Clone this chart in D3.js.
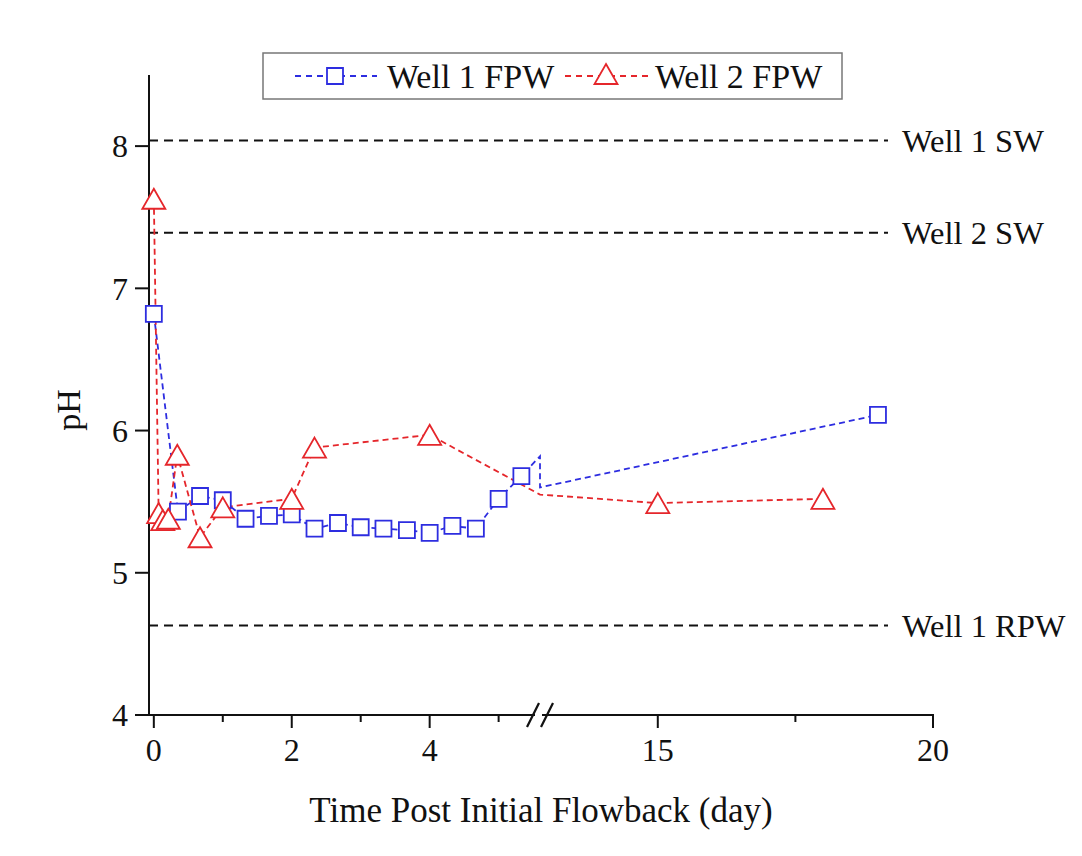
<!DOCTYPE html>
<html><head><meta charset="utf-8">
<script src="https://cdnjs.cloudflare.com/ajax/libs/d3/7.8.5/d3.min.js"></script>
<style>body{margin:0;background:#fff}svg{display:block}text{font-family:"Liberation Serif","Times New Roman",serif;fill:#111}</style>
</head><body><svg id="c" width="1082" height="856"></svg>
<script>
// ---- data ----
// Points with x inside the axis break (5.6–12.86 d) are hidden by the break; only their line joins show.
const well1Days = [0, 0.35, 0.67, 1.0, 1.33, 1.67, 2.0, 2.33, 2.67, 3.0, 3.33, 3.67, 4.0, 4.33, 4.67, 5.0, 5.33, 7, 10, 19];
const well1PH   = [6.82, 5.43, 5.54, 5.51, 5.38, 5.40, 5.41, 5.31, 5.35, 5.32, 5.31, 5.30, 5.28, 5.33, 5.31, 5.52, 5.68, 5.82, 5.60, 6.11];
const well2Days = [0, 0.07, 0.13, 0.21, 0.34, 0.67, 1.0, 2.0, 2.33, 4.0, 8, 15, 18];
const well2PH   = [7.63, 5.42, 5.37, 5.38, 5.83, 5.25, 5.46, 5.52, 5.88, 5.97, 5.55, 5.49, 5.52];
const refNames  = ["Well 1 SW", "Well 2 SW", "Well 1 RPW"];
const refPH     = [8.04, 7.39, 4.63];
const xMajorTicks = [0, 2, 4, 15, 20];
const xMinorTicks = [1, 3, 5, 17.5];
const yTicks = [4, 5, 6, 7, 8];
const breakStart = 5.6, breakEnd = 12.86;
const seriesNames = ["Well 1 FPW", "Well 2 FPW"];

const svg = d3.select("#c");
const X0 = 149, XB = 540, X1 = 933, YT = 75, YB = 715;
const x = d3.scaleLinear().domain([-0.07, breakStart, breakEnd, 20]).range([X0, XB, XB, X1]);
const y = d3.scaleLinear().domain([4, 8.5]).range([YB, YT]);
const blue = "#2d2de0", red = "#e5262b";

// reference lines
refPH.forEach((v, i) => {
  svg.append("line").attr("x1", X0).attr("x2", 888).attr("y1", y(v)).attr("y2", y(v))
    .attr("stroke", "#111").attr("stroke-width", 2).attr("stroke-dasharray", "9,6");
  svg.append("text").attr("x", 902).attr("y", y(v)).attr("dy", "0.35em")
    .attr("font-size", 32.5).text(refNames[i]);
});

// axes
svg.append("line").attr("x1", X0).attr("x2", X0).attr("y1", YT).attr("y2", YB).attr("stroke", "#111").attr("stroke-width", 2);
svg.append("line").attr("x1", X0 - 1).attr("x2", X1 + 1).attr("y1", YB).attr("y2", YB).attr("stroke", "#111").attr("stroke-width", 2);
yTicks.forEach(t => {
  svg.append("line").attr("x1", X0 - 14).attr("x2", X0).attr("y1", y(t)).attr("y2", y(t)).attr("stroke", "#111").attr("stroke-width", 2);
  svg.append("text").attr("x", X0 - 21).attr("y", y(t)).attr("dy", "0.35em").attr("text-anchor", "end").attr("font-size", 32).text(t);
});
xMajorTicks.forEach(t => {
  svg.append("line").attr("x1", x(t)).attr("x2", x(t)).attr("y1", YB).attr("y2", YB + 13).attr("stroke", "#111").attr("stroke-width", 2);
  svg.append("text").attr("x", x(t)).attr("y", YB + 46).attr("text-anchor", "middle").attr("font-size", 32).text(t);
});
xMinorTicks.forEach(t => {
  svg.append("line").attr("x1", x(t)).attr("x2", x(t)).attr("y1", YB).attr("y2", YB + 7).attr("stroke", "#111").attr("stroke-width", 2);
});
// break marks
svg.append("line").attr("x1", XB - 5).attr("x2", XB + 2).attr("y1", YB).attr("y2", YB).attr("stroke", "#fff").attr("stroke-width", 4);
[-7, 7].forEach(o => {
  svg.append("line").attr("x1", XB + o - 6).attr("x2", XB + o + 6).attr("y1", YB + 12).attr("y2", YB - 12)
    .attr("stroke", "#111").attr("stroke-width", 2.2);
});

// titles
svg.append("text").attr("transform", `translate(80,410) rotate(-90)`).attr("text-anchor", "middle").attr("font-size", 34).text("pH");
svg.append("text").attr("x", 541).attr("y", 822).attr("text-anchor", "middle").attr("font-size", 35).text("Time Post Initial Flowback (day)");

// series
const line = d3.line().x(d => x(d[0])).y(d => y(d[1]));
const inBreak = d => d[0] > breakStart && d[0] < breakEnd;
const s1 = well1Days.map((d, i) => [d, well1PH[i]]);
const s2 = well2Days.map((d, i) => [d, well2PH[i]]);
const sq = d3.symbol().type(d3.symbolSquare).size(16 * 16);
const triPath = (cx, cy, w) => { const h = w * 0.87; return `M${cx},${cy - h / 2}L${cx + w / 2},${cy + h / 2}L${cx - w / 2},${cy + h / 2}Z`; };

svg.append("path").datum(s1).attr("d", line).attr("fill", "none").attr("stroke", blue).attr("stroke-width", 1.8).attr("stroke-dasharray", "6,4");
svg.append("path").datum(s2).attr("d", line).attr("fill", "none").attr("stroke", red).attr("stroke-width", 1.8).attr("stroke-dasharray", "6,4");

svg.selectAll(".m1").data(s1.filter(d => !inBreak(d))).enter().append("path")
  .attr("d", sq).attr("transform", d => `translate(${x(d[0])},${y(d[1])})`)
  .attr("fill", "#fff").attr("stroke", blue).attr("stroke-width", 1.8);
svg.selectAll(".m2").data(s2.filter(d => !inBreak(d))).enter().append("path")
  .attr("d", d => triPath(x(d[0]), y(d[1]), 23))
  .attr("fill", "#fff").attr("stroke", red).attr("stroke-width", 1.8);

// legend
svg.append("rect").attr("x", 263).attr("y", 53).attr("width", 579).attr("height", 46)
  .attr("fill", "#fff").attr("stroke", "#777").attr("stroke-width", 1.5);
const ly = 76;
svg.append("line").attr("x1", 295).attr("x2", 377).attr("y1", ly).attr("y2", ly).attr("stroke", blue).attr("stroke-width", 1.8).attr("stroke-dasharray", "6,5");
svg.append("path").attr("d", sq).attr("transform", `translate(335,${ly})`).attr("fill", "#fff").attr("stroke", blue).attr("stroke-width", 1.8);
svg.append("text").attr("x", 387).attr("y", ly).attr("dy", "0.35em").attr("font-size", 34).text(seriesNames[0]);
svg.append("line").attr("x1", 565).attr("x2", 648).attr("y1", ly).attr("y2", ly).attr("stroke", red).attr("stroke-width", 1.8).attr("stroke-dasharray", "6,5");
svg.append("path").attr("d", triPath(606, ly - 2, 23)).attr("fill", "#fff").attr("stroke", red).attr("stroke-width", 1.8);
svg.append("text").attr("x", 655).attr("y", ly).attr("dy", "0.35em").attr("font-size", 34).text(seriesNames[1]);
</script></body></html>
